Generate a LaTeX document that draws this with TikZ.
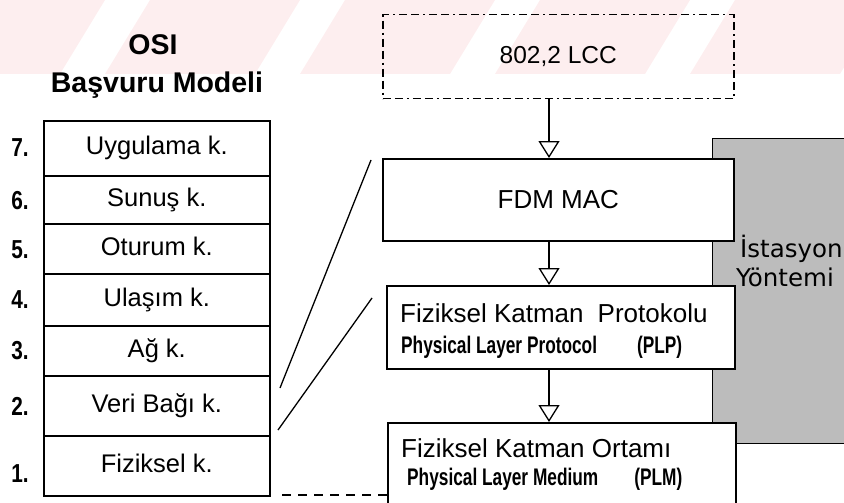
\documentclass[tikz,border=0pt]{standalone}
\usepackage{fontspec}
\setmainfont{Liberation Sans}
\newfontfamily\condf[FakeStretch=0.72]{Liberation Sans}
\newfontfamily\numf[FakeStretch=0.8]{Liberation Sans}
\newfontfamily\wideF{DejaVu Sans}
\usetikzlibrary{arrows.meta}
\definecolor{wm}{RGB}{253,238,239}
\definecolor{boxgray}{RGB}{188,188,188}
\tikzset{
  layer/.style={draw, line width=1.6pt, minimum width=226pt, anchor=north west, inner sep=0pt,
    font=\fontsize{25.5}{30}\selectfont, text height=18pt, text depth=5pt},
  num/.style={anchor=center, inner sep=0pt, font=\numf\bfseries\fontsize{26}{30}\selectfont,
    text height=18pt, text depth=0pt},
  rbox/.style={draw, line width=1.6pt, fill=white, anchor=north west, inner sep=0pt},
  lcbox/.style={draw, line width=1.5pt, anchor=north west, inner sep=0pt,
    dash pattern=on 8pt off 4pt on 8pt off 4pt on 2pt off 4pt,
    font=\fontsize{24.5}{28}\selectfont},
  flow/.style={line width=1.3pt, -{Triangle[open, length=17pt, width=21pt, line width=1.3pt]}},
  big/.style={anchor=base west, inner sep=0pt, font=\fontsize{26}{30}\selectfont},
  small/.style={anchor=base west, inner sep=0pt, font=\condf\bfseries\fontsize{24}{28}\selectfont},
  graybox/.style={draw, line width=1.4pt, fill=boxgray, anchor=north west, inner sep=0pt},
  side/.style={anchor=base west, inner sep=0pt, font=\wideF\fontsize{24.5}{28}\selectfont},
  title/.style={anchor=center, inner sep=0pt, font=\bfseries\fontsize{28.5}{32}\selectfont},
  link/.style={line width=1.3pt},
}
\begin{document}
\begin{tikzpicture}[x=1pt,y=-1pt]
\useasboundingbox (0,0) rectangle (844,503);
\clip (0,0) rectangle (844,503);
% faint watermark stripes
\foreach \b in {-90,105,300,495,690,885} {
  \fill[wm] (\b,74) -- (\b+150,74) -- (\b+195,0) -- (\b+45,0) -- cycle;
}
% title
\node[title] (t1) at (153,45) {OSI};
\node[title] (t2) at (157,85) {Başvuru Modeli};
% OSI stack
\node[layer, minimum height=55pt] (l7) at (43,120) {Uygulama k.};
\node[layer, minimum height=48pt] (l6) at (43,175) {Sunuş k.};
\node[layer, minimum height=50pt] (l5) at (43,223) {Oturum k.};
\node[layer, minimum height=52pt] (l4) at (43,273) {Ulaşım k.};
\node[layer, minimum height=50pt] (l3) at (43,325) {Ağ k.};
\node[layer, minimum height=60pt] (l2) at (43,375) {Veri Bağı k.};
\node[layer, minimum height=60pt] (l1) at (43,435) {Fiziksel k.};
\node[num] (n7) at (20,147) {7.};
\node[num] (n6) at (20,200) {6.};
\node[num] (n5) at (20,249) {5.};
\node[num] (n4) at (20,299) {4.};
\node[num] (n3) at (20,350) {3.};
\node[num] (n2) at (20,406) {2.};
\node[num] (n1) at (20,473) {1.};
% gray station box
\node[graybox, minimum width=170pt, minimum height=305pt] (ist) at (712,138) {};
\node[side] (ist1) at (740,257) {İstasyon};
\node[side] (ist2) at (736,286) {Yöntemi};
% right column
\node[lcbox, minimum width=351pt, minimum height=84pt] (lcc) at (382,14) {802,2 LCC};
\node[rbox, minimum width=351pt, minimum height=82pt, font=\fontsize{26}{30}\selectfont] (mac) at (382,158) {FDM MAC};
\node[rbox, minimum width=348pt, minimum height=83pt] (plp) at (386,285) {};
\node[rbox, minimum width=348pt, minimum height=100pt] (plm) at (387,422) {};
\node[big] (plpA) at (400,322) {Fiziksel Katman\hspace{14pt}Protokolu};
\node[small] (plpB) at (401,353) {Physical Layer Protocol\hspace{40pt}(PLP)};
\node[big] (plmA) at (401,457) {Fiziksel Katman Ortamı};
\node[small] (plmB) at (407,485) {Physical Layer Medium\hspace{36pt}(PLM)};
% arrows
\draw[flow] (lcc.south -| 549,0) -- (mac.north -| 549,0);
\draw[flow] (mac.south -| 549,0) -- (plp.north -| 549,0);
\draw[flow] (plp.south -| 549,0) -- (plm.north -| 549,0);
% expansion lines
\coordinate (a1) at (280,388);
\coordinate (a2) at (371,160);
\coordinate (b1) at (278,430);
\coordinate (b2) at (372,298);
\coordinate (d1) at (282,495);
\draw[link] (a1) -- (a2);
\draw[link] (b1) -- (b2);
\draw[line width=1.4pt, dash pattern=on 9pt off 7pt] (d1) -- (d1 -| plm.west);
\end{tikzpicture}
\end{document}
